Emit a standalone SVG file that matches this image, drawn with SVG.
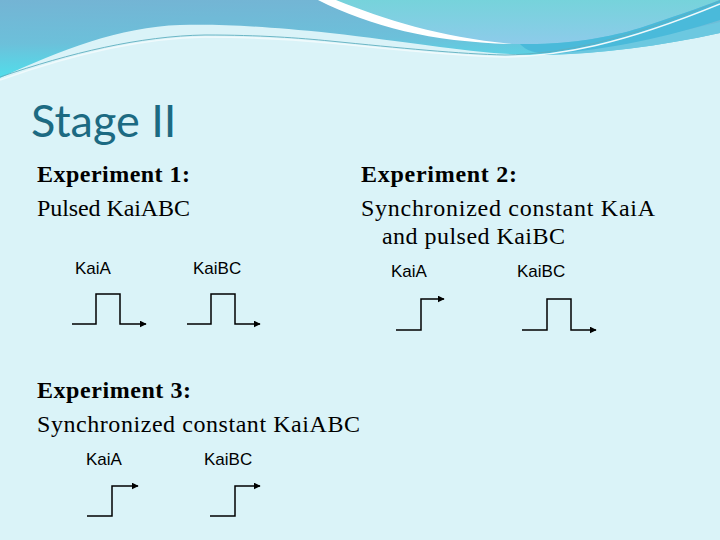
<svg xmlns="http://www.w3.org/2000/svg" width="720" height="540" viewBox="0 0 720 540">
<defs>
<linearGradient id="gBlue" x1="0" y1="0" x2="0.15" y2="1">
<stop offset="0" stop-color="#74B4D4"/>
<stop offset="0.55" stop-color="#6CC0DA"/>
<stop offset="1" stop-color="#4FE0EC"/>
</linearGradient>
<linearGradient id="gTeal" x1="0" y1="0" x2="0" y2="1">
<stop offset="0" stop-color="#76D3DB"/>
<stop offset="1" stop-color="#8DCBEA"/>
</linearGradient>
<marker id="arr" viewBox="0 0 10 10" refX="9" refY="5" markerWidth="7" markerHeight="7" markerUnits="userSpaceOnUse" orient="auto">
<path d="M0,0 L10,5 L0,10 Z" fill="#000"/>
</marker>
<style>
.title{font-family:Lato,"Open Sans","Liberation Sans",sans-serif;font-size:45px;fill:#1C6A82}
.hd{font-family:"Liberation Serif",serif;font-size:24px;font-weight:bold;fill:#000}
.tx{font-family:"Liberation Serif",serif;font-size:24px;fill:#000}
.lb{font-family:"Liberation Sans",Arial,sans-serif;font-size:17px;fill:#000}
.sig{fill:none;stroke:#000;stroke-width:1.5;marker-end:url(#arr)}
</style>
</defs>
<rect x="0" y="0" width="720" height="540" fill="#DAF3F8"/>
<g id="header">
<path d="M0,0 H720 V33 C660,46 600,54 540,55 C480,55 420,43 330,33 C260,26 220,24 180,25 C120,27 60,50 0,78 Z" fill="url(#gBlue)"/>
<path d="M545,54 C610,48 670,34 720,22 V33 C660,46 600,54 545,55 Z" fill="#6CC8E0"/>
<path d="M318,0 C370,24 430,42 520,44 C570,45 610,37 640,28 C670,18 700,8 720,0 Z" fill="url(#gTeal)"/>
<path d="M520,44 C570,45 610,37 640,28 C670,18 700,8 720,0 V20 C670,36 610,50 548,54 C530,53 524,48 520,44 Z" fill="#4ABADA"/>
<path d="M318,0 C372,27 432,42 512,44 C440,37 386,20 336,0 Z" fill="#FFFFFF"/>
<path d="M0,80 C70,55 140,38 205,37 C260,37 300,40 330,43 C400,50 460,56 505,57 C560,56 620,45 720,4" fill="none" stroke="#F0FAFC" stroke-width="1.6"/>
<path d="M0,77 C70,53 140,36 205,35 C260,35 300,38 330,41 C400,48 460,54 505,55 C560,54 620,42 720,1" fill="none" stroke="#5FAFC0" stroke-width="0.9"/>
</g>
<text id="title" class="title" x="31" y="137">Stage II</text>
<g id="exp1">
<text class="hd" x="37" y="182" textLength="153">Experiment 1:</text>
<text class="tx" x="37" y="216" textLength="153">Pulsed KaiABC</text>
<text class="lb" x="75" y="274">KaiA</text>
<text class="lb" x="193" y="274">KaiBC</text>
</g>
<g id="exp2">
<text class="hd" x="361" y="182" textLength="156">Experiment 2:</text>
<text class="tx" x="361" y="216" textLength="294">Synchronized constant KaiA</text>
<text class="tx" x="382" y="244" textLength="183">and pulsed KaiBC</text>
<text class="lb" x="391" y="277">KaiA</text>
<text class="lb" x="517" y="277">KaiBC</text>
</g>
<g id="exp3">
<text class="hd" x="37" y="398" textLength="154">Experiment 3:</text>
<text class="tx" x="37" y="432" textLength="323">Synchronized constant KaiABC</text>
<text class="lb" x="86" y="465">KaiA</text>
<text class="lb" x="204" y="465">KaiBC</text>
</g>
<g id="connectors">
<path class="sig" d="M72,324 H96 V294 H120 V324 H146"/>
<path class="sig" d="M187,324 H211 V294 H235 V324 H260"/>
<path class="sig" d="M396,330 H421 V299 H444"/>
<path class="sig" d="M522,330 H547 V299 H571 V330 H596"/>
<path class="sig" d="M87,516 H112 V486 H138"/>
<path class="sig" d="M210,516 H235 V486 H260"/>
</g>
</svg>
